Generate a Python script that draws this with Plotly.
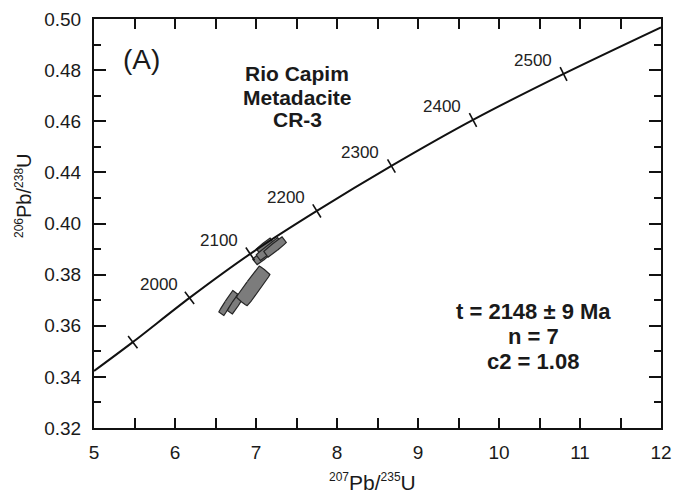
import numpy as np
import plotly.graph_objects as go

# ---------------- data ----------------
# Concordia curve points (207Pb/235U, 206Pb/238U)
curve_x = [5.0, 5.479, 6.179, 6.928, 7.751, 8.672, 9.679, 10.797, 12.0]
curve_y = [0.3423, 0.3536, 0.3709, 0.3881, 0.4049, 0.4225, 0.4405, 0.4585, 0.4767]

# Age ticks on the concordia (Ma) – they sit on curve points 1..7
age_values = [1900, 2000, 2100, 2200, 2300, 2400, 2500]
age_labels = ["", "2000", "2100", "2200", "2300", "2400", "2500"]

# Zircon analyses (n = 7): centre, errors, error correlation
spot_x = [6.658, 6.744, 6.965, 7.063, 7.112, 7.161, 7.235]
spot_y = [0.3689, 0.3685, 0.3756, 0.3869, 0.3912, 0.3900, 0.3908]
spot_sx = [0.0921, 0.0746, 0.160, 0.0817, 0.089, 0.1355, 0.1173]
spot_sy = [0.00437, 0.0034, 0.00650, 0.00234, 0.0025, 0.00372, 0.00325]
spot_rho = [0.84, 0.748, 0.745, 0.594, 0.733, 0.845, 0.795]

# Axis ticks
x_tick_vals = [5, 6, 7, 8, 9, 10, 11, 12]
y_tick_vals = [0.32, 0.34, 0.36, 0.38, 0.40, 0.42, 0.44, 0.46, 0.48]
y_tick_text = ["0.32", "0.34", "0.36", "0.38", "0.40", "0.44", "0.46", "0.48", "0.50"]

# ---------------- layout constants ----------------
W, H = 673, 494
ML, MR, MT, MB = 94, 12, 19, 66
XR = [5, 12]
YR = [0.32, 0.48]
plot_w = W - ML - MR
plot_h = H - MT - MB
kx = plot_w / (XR[1] - XR[0])   # px per x unit
ky = plot_h / (YR[1] - YR[0])   # px per y unit

FONT = "Liberation Sans, Arial, Helvetica, sans-serif"
INK = "#1a1a1a"

fig = go.Figure()

# ---------------- error boxes ----------------
t = np.linspace(0, 2 * np.pi, 241)
cu = np.sign(np.cos(t)) * np.abs(np.cos(t)) ** 0.12
sv = np.sign(np.sin(t)) * np.abs(np.sin(t)) ** 0.12
for cx, cy, sx, sy, r in zip(spot_x, spot_y, spot_sx, spot_sy, spot_rho):
    sxp, syp = sx * kx, sy * ky
    cov = np.array([[sxp ** 2, r * sxp * syp], [r * sxp * syp, syp ** 2]])
    evals, evecs = np.linalg.eigh(cov)
    pts = evecs @ np.diag(np.sqrt(evals)) @ np.vstack([cu, sv])
    fig.add_trace(go.Scatter(
        x=cx + pts[0] / kx, y=cy + pts[1] / ky,
        mode="lines", fill="toself", fillcolor="#7c7c7c",
        line=dict(color="#262626", width=1.2), hoverinfo="skip", showlegend=False))

# ---------------- concordia ----------------
fig.add_trace(go.Scatter(
    x=curve_x, y=curve_y, mode="lines",
    line=dict(color="#111111", width=2, shape="spline", smoothing=0.8),
    hoverinfo="skip", showlegend=False))

# tick marks perpendicular to the curve
cxa = np.array(curve_x)
cya = np.array(curve_y)
angles = []
for i in range(1, len(curve_x) - 1):
    dx = (cxa[i + 1] - cxa[i - 1]) * kx
    dy = (cya[i + 1] - cya[i - 1]) * ky
    angles.append(-np.degrees(np.arctan2(dy, dx)))
fig.add_trace(go.Scatter(
    x=curve_x[1:-1], y=curve_y[1:-1], mode="markers",
    marker=dict(symbol="line-ns", size=11, angle=angles,
                line=dict(color="#111111", width=1.6)),
    text=[str(a) for a in age_values], hoverinfo="text", showlegend=False))

# age labels
for xa, ya, lab in zip(curve_x[1:-1], curve_y[1:-1], age_labels):
    if lab:
        fig.add_annotation(x=xa, y=ya, text=lab, showarrow=False,
                           xanchor="center", yanchor="middle",
                           xshift=-31, yshift=13,
                           font=dict(family=FONT, size=17, color="#222222"))

# ---------------- text annotations ----------------
def paper_x(px):
    return (px - ML) / plot_w


def paper_y(py):
    return (H - MB - py) / plot_h


def note(px, py, txt, size, angle=0):
    fig.add_annotation(xref="paper", yref="paper", x=paper_x(px), y=paper_y(py),
                       text=txt, showarrow=False, textangle=angle,
                       xanchor="center", yanchor="middle",
                       font=dict(family=FONT, size=size, color=INK))


def iso(a, b):
    s = '<sup><span style="font-size:12px">%s</span></sup>'
    return (s % a) + "Pb/" + (s % b) + "U"


note(141, 60, "(A)", 28)

for txt, py in zip(["Rio Capim", "Metadacite", "CR-3"], [73, 97, 120]):
    note(297, py, "<b>%s</b>" % txt, 21)

for txt, py in zip(["t = 2148 \u00b1 9 Ma", "n = 7", "c2 = 1.08"], [311, 336, 361]):
    note(533, py, "<b>%s</b>" % txt, 22)

# axis titles
note(372, 482, iso("207", "235"), 21)
note(23, 196, iso("206", "238"), 20, angle=-90)

# ---------------- axes ----------------
fig.update_xaxes(
    range=XR, tickmode="array", tickvals=x_tick_vals, automargin=False,
    ticks="inside", ticklen=10, tickwidth=2, tickcolor="#111111",
    showline=True, linewidth=2, linecolor="#111111", mirror="ticks",
    showgrid=False, zeroline=False, ticklabelstandoff=6,
    tickfont=dict(family=FONT, size=19, color=INK),
    minor=dict(dtick=0.5, tick0=5, ticks="inside", ticklen=10, tickwidth=2,
               tickcolor="#111111", showgrid=False),
)
fig.update_yaxes(
    range=YR, tickmode="array", tickvals=y_tick_vals, ticktext=y_tick_text,
    automargin=False,
    ticks="inside", ticklen=12, tickwidth=2, tickcolor="#111111",
    showline=True, linewidth=2, linecolor="#111111", mirror="ticks",
    showgrid=False, zeroline=False, ticklabelstandoff=7,
    tickfont=dict(family=FONT, size=19, color=INK),
    minor=dict(dtick=0.01, tick0=0.32, ticks="inside", ticklen=7, tickwidth=2,
               tickcolor="#111111", showgrid=False),
)

fig.update_layout(
    width=W, height=H,
    margin=dict(l=ML, r=MR, t=MT, b=MB, autoexpand=False),
    paper_bgcolor="white", plot_bgcolor="white",
    showlegend=False,
)

fig.write_html("out.html")
